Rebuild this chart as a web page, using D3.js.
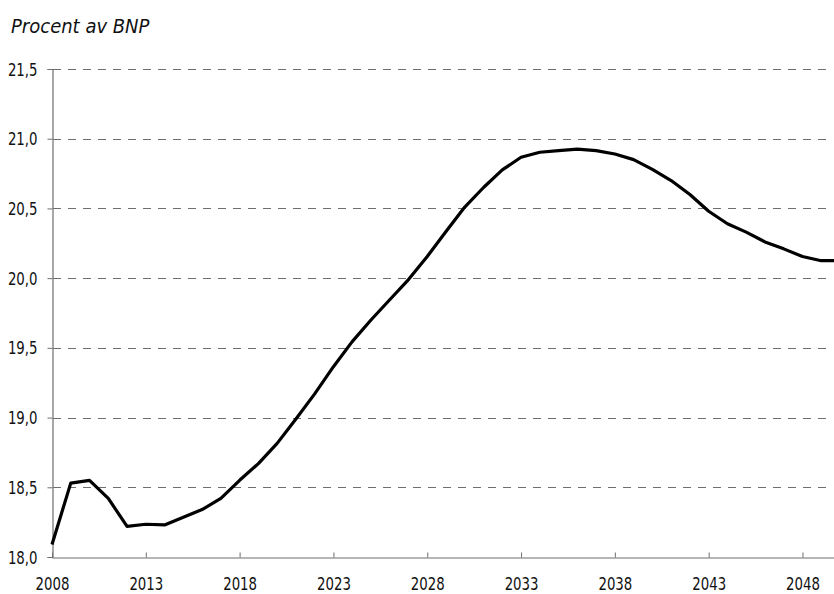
<!DOCTYPE html>
<html>
<head>
<meta charset="utf-8">
<script src="https://cdn.jsdelivr.net/npm/d3@7"></script>
<style>
  body { margin: 0; background: #fff; }
  svg text { font-family: "DejaVu Sans Condensed", "Liberation Sans Narrow", "Roboto", sans-serif; fill: #111; }
</style>
</head>
<body>
<script>
'use strict';

// years and share of GDP
const years = d3.range(2008, 2051);
const values = [
  18.09, 18.53, 18.55, 18.42, 18.22, 18.235, 18.23, 18.285, 18.34, 18.42,
  18.55, 18.67, 18.815, 18.99, 19.17, 19.365, 19.545, 19.70, 19.845, 19.99,
  20.155, 20.335, 20.51, 20.65, 20.776, 20.867, 20.903, 20.915, 20.925, 20.915,
  20.89, 20.85, 20.78, 20.70, 20.60, 20.48, 20.39, 20.33, 20.26, 20.21,
  20.155, 20.125, 20.125
];
const xTicks = [2008, 2013, 2018, 2023, 2028, 2033, 2038, 2043, 2048];
const yTicks = [18.0, 18.5, 19.0, 19.5, 20.0, 20.5, 21.0, 21.5];

(function () {
  const width = 834, height = 594;
  const svg = d3.select("body").append("svg")
    .attr("width", width)
    .attr("height", height);

  // x runs past the right edge, the original is cut there
  const x = d3.scaleLinear().domain([2008, 2050]).range([52, 840]);
  const y = d3.scaleLinear().domain([18, 21.5]).range([557, 69]);

  const fmt = d => d3.format(".1f")(d).replace(".", ",");
  const narrow = 0.87; // squeeze labels to look like a condensed face

  // dashed grid
  svg.append("g")
    .selectAll("line")
    .data(yTicks.filter(d => d > 18))
    .enter()
    .append("line")
    .attr("x1", x(2008) + 1)
    .attr("x2", 830)
    .attr("y1", d => Math.round(y(d)) + 0.5)
    .attr("y2", d => Math.round(y(d)) + 0.5)
    .attr("stroke", "#6e6e6e")
    .attr("stroke-width", 1)
    .attr("stroke-dasharray", "8,7");

  // y axis
  const yAxis = d3.axisLeft(y).tickValues(yTicks).tickFormat(fmt).tickSize(5).tickPadding(9);
  const gy = svg.append("g")
    .attr("transform", "translate(52.5,0)")
    .call(yAxis);
  gy.select(".domain").attr("stroke", "#6e6e6e").attr("stroke-width", 1.2);
  gy.selectAll(".tick line").attr("stroke", "#6e6e6e");
  gy.selectAll(".tick text")
    .style("font-size", "17px")
    .attr("dy", "0.36em")
    .attr("x", -15 / narrow)
    .attr("transform", `scale(${narrow},1)`);

  // x axis, ticks point inwards
  const xAxis = d3.axisBottom(x).tickValues(xTicks).tickFormat(d3.format("d")).tickSizeInner(-5).tickSizeOuter(0).tickPadding(20);
  const gx = svg.append("g")
    .attr("transform", "translate(0,557.5)")
    .call(xAxis);
  gx.select(".domain").attr("stroke", "#6e6e6e").attr("stroke-width", 1.2);
  gx.selectAll(".tick line").attr("stroke", "#6e6e6e");
  gx.selectAll(".tick text")
    .style("font-size", "17px")
    .attr("transform", `scale(${narrow},1)`);

  // the series
  const line = d3.line()
    .x((d, i) => x(years[i]))
    .y(d => y(d));

  svg.append("path")
    .datum(values)
    .attr("fill", "none")
    .attr("stroke", "#000")
    .attr("stroke-width", 3.2)
    .attr("stroke-linejoin", "round")
    .attr("d", line);

  // unit label
  svg.append("text")
    .attr("x", 11)
    .attr("y", 33)
    .style("font-size", "20px")
    .style("font-style", "italic")
    .text("Procent av BNP");
})();
</script>
</body>
</html>
